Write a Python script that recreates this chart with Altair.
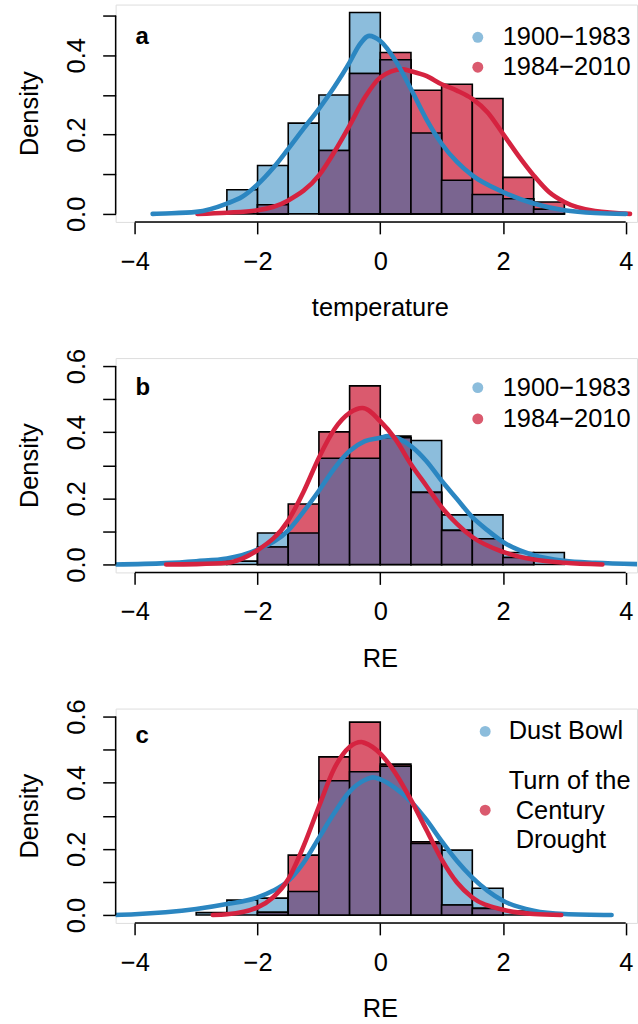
import altair as alt
import pandas as pd

FONT = "Liberation Sans"
FS = 25.5
LETTER_FS = 24
BLUE_FILL = "#8CBDDC"
RED_FILL = "#DA5A6E"
PURPLE = "#7A6590"
BLUE_LINE = "#2B86C1"
RED_LINE = "#D52340"

# ---------------- Panel a (temperature) ----------------
A_EDGES = [-2.5, -2.0, -1.5, -1.0, -0.5, 0.0, 0.5, 1.0, 1.5, 2.0, 2.5, 3.0]
A_BLUE = [0.061, 0.122, 0.229, 0.300, 0.508, 0.389, 0.204, 0.085, 0.049, 0.038, 0.012]
A_RED = [0.000, 0.023, 0.000, 0.160, 0.354, 0.407, 0.312, 0.327, 0.291, 0.092, 0.030]
A_BLUE_X = [-3.71, -3.5, -3.0, -2.5, -2.25, -2.0, -1.75, -1.5, -1.25, -1.0, -0.75, -0.5, -0.35, -0.18,
            0.0, 0.25, 0.5, 0.75, 1.0, 1.25, 1.5, 2.0, 2.5, 3.0, 3.5, 4.0]
A_BLUE_Y = [0.000, 0.001, 0.005, 0.026, 0.043, 0.074, 0.115, 0.164, 0.215, 0.265, 0.320, 0.382, 0.424, 0.449,
            0.436, 0.386, 0.315, 0.239, 0.177, 0.131, 0.097, 0.055, 0.026, 0.009, 0.002, 0.000]
A_RED_X = [-2.98, -2.5, -2.0, -1.5, -1.0, -0.75, -0.5, -0.25, 0.0, 0.36, 0.5, 0.75, 1.0, 1.25,
           1.5, 1.75, 2.0, 2.25, 2.5, 2.75, 3.0, 3.5, 4.07]
A_RED_Y = [0.000, 0.003, 0.009, 0.034, 0.097, 0.156, 0.223, 0.294, 0.344, 0.365, 0.360, 0.348, 0.327, 0.311,
           0.290, 0.256, 0.202, 0.147, 0.097, 0.055, 0.030, 0.007, 0.000]

# ---------------- Panel b (RE) ----------------
B_EDGES = [-3.0, -2.5, -2.0, -1.5, -1.0, -0.5, 0.0, 0.5, 1.0, 1.5, 2.0, 2.5, 3.0]
B_BLUE = [0.012, 0.010, 0.095, 0.095, 0.321, 0.321, 0.388, 0.375, 0.150, 0.150, 0.036, 0.036]
B_RED = [0.000, 0.000, 0.053, 0.183, 0.401, 0.540, 0.383, 0.218, 0.103, 0.078, 0.021, 0.000]
B_BLUE_X = [-4.33, -3.5, -3.0, -2.5, -2.0, -1.5, -1.25, -1.0, -0.75, -0.5, -0.25, 0.0, 0.12, 0.5,
            0.75, 1.0, 1.25, 1.5, 1.75, 2.0, 2.5, 3.0, 3.5, 4.2]
B_BLUE_Y = [0.000, 0.004, 0.010, 0.018, 0.045, 0.103, 0.160, 0.223, 0.290, 0.343, 0.373, 0.383, 0.388, 0.358,
            0.313, 0.253, 0.198, 0.143, 0.103, 0.068, 0.028, 0.011, 0.005, 0.001]
B_RED_X = [-3.49, -3.0, -2.5, -2.25, -2.0, -1.5, -1.25, -1.0, -0.75, -0.5, -0.29, 0.0, 0.25, 0.5,
           0.75, 1.0, 1.25, 1.5, 2.0, 2.5, 3.0, 3.62]
B_RED_Y = [0.000, 0.001, 0.005, 0.018, 0.043, 0.133, 0.220, 0.323, 0.408, 0.458, 0.473, 0.433, 0.378, 0.303,
           0.238, 0.173, 0.123, 0.083, 0.038, 0.015, 0.005, 0.000]

# ---------------- Panel c (RE, droughts) ----------------
C_EDGES = [-3.0, -2.5, -2.0, -1.5, -1.0, -0.5, 0.0, 0.5, 1.0, 1.5, 2.0, 2.5]
C_BLUE = [0.007, 0.045, 0.051, 0.071, 0.406, 0.433, 0.450, 0.216, 0.196, 0.081, 0.012]
C_RED = [0.000, 0.000, 0.008, 0.181, 0.478, 0.583, 0.456, 0.221, 0.030, 0.020, 0.000]
C_BLUE_X = [-4.33, -4.0, -3.5, -3.0, -2.5, -2.0, -1.75, -1.5, -1.25, -1.0, -0.75, -0.5, -0.25, -0.12,
            0.0, 0.25, 0.5, 0.75, 1.0, 1.25, 1.5, 1.75, 2.0, 2.5, 3.0, 3.77]
C_BLUE_Y = [0.000, 0.002, 0.008, 0.018, 0.033, 0.053, 0.073, 0.103, 0.158, 0.233, 0.308, 0.373, 0.408, 0.416,
            0.410, 0.383, 0.343, 0.288, 0.223, 0.163, 0.113, 0.073, 0.043, 0.013, 0.003, 0.000]
C_RED_X = [-2.73, -2.5, -2.0, -1.75, -1.5, -1.25, -1.0, -0.75, -0.5, -0.31, -0.25, 0.0, 0.25, 0.5,
           0.75, 1.0, 1.25, 1.5, 2.0, 2.5, 2.95]
C_RED_Y = [0.000, 0.002, 0.023, 0.053, 0.108, 0.208, 0.328, 0.443, 0.508, 0.523, 0.520, 0.488, 0.428, 0.348,
           0.258, 0.168, 0.098, 0.053, 0.016, 0.003, 0.000]

X_DOMAIN = [-4.313, 4.184]
X_TICKS = [-4, -2, 0, 2, 4]
PLOT_W = 523

PERIODS = ["1900\u22121983", "1984\u22122010"]
DROUGHTS = ["Dust Bowl", ["Turn of the", "Century", "Drought"]]


def panel(letter, edges, blue, red, bx, by, rx, ry, ydom, height, ytop, xtitle,
          legend, letter_y, blue_on_top):
    xs = alt.Scale(domain=X_DOMAIN, nice=False, zero=False)
    ys = alt.Scale(domain=ydom, nice=False, zero=False)
    xaxis = alt.Axis(values=X_TICKS, domain=False, grid=False, tickSize=12, tickWidth=1.5,
                     tickColor="black", labelFont=FONT, labelFontSize=FS, labelColor="black",
                     labelPadding=15.5, labelBaseline="top", labelFlush=False, labelOverlap=False,
                     title=None)
    yvals = [round(0.1 * i, 1) for i in range(int(round(ytop * 10)) + 1)]
    yaxis = alt.Axis(values=yvals, domain=False, grid=False, tickSize=13, tickWidth=1.5,
                     tickColor="black", labelFont=FONT, labelFontSize=FS, labelColor="black",
                     labelAngle=270, labelAlign="center", labelBaseline="alphabetic",
                     labelPadding=18.7, labelOverlap=False, labelFlush=False,
                     labelExpr="round(datum.value*10) % 2 == 0 ? format(datum.value, '.1f') : ''",
                     title="Density", titleFont=FONT, titleFontSize=FS, titleFontWeight="normal",
                     titleColor="black", titleAngle=270, titleX=-86, titleY=height / 2,
                     titleBaseline="middle", titleAlign="center")

    df = pd.DataFrame({"lo": edges[:-1], "hi": edges[1:], "blue": blue, "red": red})
    df["both"] = [min(b, r) for b, r in zip(blue, red)]
    base = alt.Chart(df)

    def bars(field, color):
        return base.transform_filter(f"datum.{field} > 0").mark_rect(
            fill=color, stroke="black", strokeWidth=1.6).encode(
            x=alt.X("lo:Q", scale=xs, axis=xaxis), x2="hi",
            y=alt.Y(f"{field}:Q", scale=ys, axis=yaxis), y2=alt.datum(0))

    layers = [bars("blue", BLUE_FILL), bars("red", RED_FILL), bars("both", PURPLE)]

    def curve(xv, yv, color):
        return alt.Chart(pd.DataFrame({"x": xv, "y": yv})).mark_line(
            color=color, strokeWidth=4.6, interpolate="monotone", clip=True, strokeCap="round"
        ).encode(x=alt.X("x:Q", scale=xs, axis=xaxis), y=alt.Y("y:Q", scale=ys, axis=yaxis))

    blue_c = curve(bx, by, BLUE_LINE)
    red_c = curve(rx, ry, RED_LINE)
    layers += [red_c, blue_c] if blue_on_top else [blue_c, red_c]

    # axis lines, R style (from first to last tick)
    layers.append(alt.Chart(pd.DataFrame({"a": [X_TICKS[0]], "b": [X_TICKS[-1]]})).mark_rule(
        color="black", strokeWidth=1.5).encode(
        x=alt.X("a:Q", scale=xs, axis=xaxis), x2="b", y=alt.value(height)))
    layers.append(alt.Chart(pd.DataFrame({"a": [0.0], "b": [ytop]})).mark_rule(
        color="black", strokeWidth=1.5).encode(
        y=alt.Y("a:Q", scale=ys, axis=yaxis), y2="b", x=alt.value(0)))

    # x-axis title, centred under the plot region
    layers.append(alt.Chart(pd.DataFrame({"t": [xtitle]})).mark_text(
        font=FONT, fontSize=FS, align="center", baseline="middle", color="black"
    ).encode(text="t:N", x=alt.value(265.5), y=alt.value(height + 86.5)))

    # panel letter
    layers.append(alt.Chart(pd.DataFrame({"t": [letter]})).mark_text(
        font=FONT, fontSize=LETTER_FS, fontWeight="bold", align="left", baseline="middle",
        color="black").encode(text="t:N", x=alt.value(20), y=alt.value(letter_y)))

    # legend: dot + one or more text lines
    for lab, col, dx, dy, lines in legend:
        layers.append(alt.Chart(pd.DataFrame({"t": [str(lab)]})).mark_circle(
            size=120, color=col, opacity=1).encode(x=alt.value(dx), y=alt.value(dy)))
        texts = lab if isinstance(lab, list) else [lab]
        for txt, (tx, ty) in zip(texts, lines):
            layers.append(alt.Chart(pd.DataFrame({"t": [txt]})).mark_text(
                font=FONT, fontSize=FS, align="left", baseline="middle", color="black"
            ).encode(text="t:N", x=alt.value(tx), y=alt.value(ty)))

    return alt.layer(*layers).properties(width=PLOT_W, height=height)


pa = panel("a", A_EDGES, A_BLUE, A_RED, A_BLUE_X, A_BLUE_Y, A_RED_X, A_RED_Y,
           [-0.0203, 0.528], 218, 0.5, "temperature",
           [(PERIODS[0], BLUE_FILL, 363.3, 32.8, [(388.3, 32.8)]),
            (PERIODS[1], RED_FILL, 363.3, 62.8, [(388.3, 62.8)])], 33, True)
pb = panel("b", B_EDGES, B_BLUE, B_RED, B_BLUE_X, B_BLUE_Y, B_RED_X, B_RED_Y,
           [-0.024, 0.624], 215, 0.6, "RE",
           [(PERIODS[0], BLUE_FILL, 363.3, 29.6, [(388.3, 29.6)]),
            (PERIODS[1], RED_FILL, 363.3, 61.0, [(388.3, 61.0)])], 30, False)
pc = panel("c", C_EDGES, C_BLUE, C_RED, C_BLUE_X, C_BLUE_Y, C_RED_X, C_RED_Y,
           [-0.024, 0.624], 215, 0.6, "RE",
           [(DROUGHTS[0], BLUE_FILL, 370.7, 22.9, [(394.3, 22.9)]),
            (DROUGHTS[1], RED_FILL, 370.7, 101.9, [(394.3, 72.9), (401.3, 102.4), (401.3, 131.5)])],
           28, False)

chart = alt.vconcat(pa, pb, pc, spacing=136.6, bounds="flush").properties(
    padding={"left": 17, "top": 2, "right": 0, "bottom": 0}
).configure_view(stroke=None).configure(background="white")

chart.save("out.html", embed_options={"renderer": "svg", "actions": False})
